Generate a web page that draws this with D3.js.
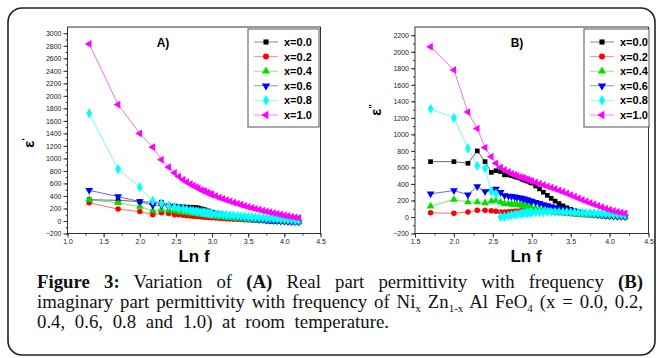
<!DOCTYPE html>
<html>
<head>
<meta charset="utf-8">
<script src="https://cdn.jsdelivr.net/npm/d3@7"></script>
<style>
  body { margin: 0; background: #fff; }
  svg { display: block; }
</style>
</head>
<body>
<svg id="fig" width="659" height="358"></svg>
<script>
// log10 of measuring frequency (axis "Ln f")
const lnF = [1.30, 1.70, 2.00, 2.18, 2.30, 2.40, 2.48, 2.54, 2.60, 2.65, 2.70, 2.74, 2.78, 2.81, 2.85,
  2.88, 2.90, 2.93, 2.95, 2.98, 3.00, 3.05, 3.10, 3.15, 3.20, 3.25, 3.30, 3.35, 3.40, 3.45, 3.50,
  3.55, 3.60, 3.65, 3.70, 3.75, 3.80, 3.85, 3.90, 3.95, 4.00, 4.05, 4.10, 4.15, 4.20];

const seriesNames = ['x=0.0', 'x=0.2', 'x=0.4', 'x=0.6', 'x=0.8', 'x=1.0'];

// A) real part  (one value per lnF entry)
const realX00 = [340, 330, 310, 300, 300, 250, 240, 230, 225, 222, 220, 218, 215, 208, 195, 185, 178, 165, 158, 145,
  138, 122, 108, 95, 83, 72, 62, 52, 44, 36, 29, 22, 16, 11, 6, 2, -2, -5, -8, -10, -12, -14, -16, -17, -18];
const realX02 = [290, 190, 150, 100, 130, 120, 100, 100, 90, 85, 80, 77, 74, 71, 67, 64, 62, 59, 57, 54,
  52, 48, 44, 40, 36, 33, 29, 26, 23, 20, 17, 14, 12, 9, 7, 5, 3, 1, 0, -2, -3, -5, -6, -8, -10];
const realX04 = [340, 290, 230, 165, 180, 170, 160, 150, 140, 134, 128, 122, 116, 112, 106, 102, 99, 94, 91, 86,
  83, 76, 69, 62, 56, 50, 44, 39, 34, 29, 25, 21, 17, 13, 10, 7, 4, 2, 0, -2, -3, -4, -5, -6, -7];
const realX06 = [490, 390, 310, 250, 250, 230, 220, 210, 200, 192, 185, 178, 172, 166, 160, 154, 150, 144, 140, 134,
  130, 120, 110, 100, 92, 84, 76, 68, 60, 53, 46, 40, 34, 28, 22, 17, 12, 7, 3, -1, -4, -8, -11, -14, -17];
const realX08 = [1720, 830, 540, 320, 280, 240, 220, 200, 190, 180, 170, 163, 156, 150, 143, 138, 134, 129, 125, 119,
  115, 110, 105, 100, 95, 90, 85, 80, 75, 70, 65, 61, 57, 53, 49, 45, 41, 37, 33, 29, 25, 20, 16, 11, 8];
const realX10 = [2830, 1860, 1400, 1180, 980, 860, 770, 710, 660, 620, 590, 565, 540, 520, 495, 480, 468, 452, 442, 428,
  420, 398, 375, 355, 335, 315, 295, 278, 260, 242, 225, 210, 195, 180, 165, 152, 140, 127, 115, 102, 90, 79, 68, 58, 50];

// B) imaginary part  (starts at the second lnF entry, 1.70)
const imagX00 = [670, 670, 650, 800, 670, 540, 560, 550, 510, 510, 500, 490, 480, 470, 458, 448, 440, 432, 420,
  410, 375, 340, 300, 262, 225, 192, 162, 135, 112, 92, 76, 62, 50, 40, 32, 26, 21, 17, 13, 10, 7, 5, 3, 1];
const imagX02 = [50, 45, 60, 80, 80, 75, 70, 60, 60, 62, 65, 68, 70, 72, 74, 75, 76, 76, 76,
  75, 73, 70, 67, 63, 59, 55, 50, 46, 42, 38, 34, 30, 27, 23, 20, 17, 14, 11, 9, 7, 5, 3, 2, 0];
const imagX04 = [130, 210, 180, 180, 170, 190, 200, 180, 160, 158, 155, 152, 150, 145, 140, 135, 128, 122, 116,
  110, 103, 96, 89, 82, 76, 70, 64, 58, 53, 48, 43, 38, 34, 30, 26, 22, 18, 15, 12, 9, 7, 5, 3, 1];
const imagX06 = [280, 320, 270, 370, 310, 310, 340, 300, 260, 255, 250, 245, 240, 232, 225, 220, 212, 206, 198,
  190, 178, 165, 152, 140, 128, 116, 105, 95, 85, 76, 68, 60, 53, 46, 40, 34, 28, 23, 18, 14, 10, 7, 4, 2];
const imagX08 = [1310, 1200, 830, 620, 590, 310, 280, 0, 5, 15, 22, 28, 33, 38, 42, 45, 48, 50, 52,
  54, 56, 58, 59, 60, 60, 60, 60, 59, 58, 56, 54, 52, 50, 48, 46, 44, 42, 40, 37, 34, 31, 28, 25, 22];
const imagX10 = [2060, 1780, 1270, 1070, 840, 730, 650, 600, 570, 545, 525, 510, 498, 485, 475, 468, 458, 450, 440,
  432, 418, 403, 388, 372, 356, 340, 322, 304, 285, 265, 245, 226, 207, 188, 170, 152, 135, 118, 102, 88, 75, 63, 53, 45];

const realTicksY = [-200, 0, 200, 400, 600, 800, 1000, 1200, 1400, 1600, 1800, 2000, 2200, 2400, 2600, 2800, 3000];
const imagTicksY = [-200, 0, 200, 400, 600, 800, 1000, 1200, 1400, 1600, 1800, 2000, 2200];
const realTicksX = [1.0, 1.5, 2.0, 2.5, 3.0, 3.5, 4.0, 4.5];
const imagTicksX = [1.5, 2.0, 2.5, 3.0, 3.5, 4.0, 4.5];

const colors = ['#000000', '#ff0000', '#00e000', '#0000ff', '#00ffff', '#ff00ff'];
const shapes = [
  { type: d3.symbolSquare, size: 22, rot: 0 },
  { type: d3.symbolCircle, size: 24, rot: 0 },
  { type: d3.symbolTriangle, size: 26, rot: 0 },
  { type: d3.symbolTriangle, size: 26, rot: 180 },
  { type: d3.symbolDiamond, size: 30, rot: 0 },
  { type: d3.symbolTriangle, size: 26, rot: -90 }
];

const svg = d3.select('#fig');
svg.append('rect').attr('width', 659).attr('height', 358).attr('fill', '#fff');
svg.append('rect')
  .attr('x', 8).attr('y', 8).attr('width', 647).attr('height', 347).attr('rx', 14)
  .attr('fill', 'none').attr('stroke', '#222').attr('stroke-width', 1.6);

function drawPanel(p) {
  const x = d3.scaleLinear().domain(p.xDomain).range([p.left, p.right]);
  const y = d3.scaleLinear().domain(p.yDomain).range([p.bottom, p.top]);
  const g = svg.append('g');

  const xMinor = d3.range(p.xDomain[0], p.xDomain[1] + 0.001, 0.25);
  const yMinor = d3.range(p.yTicks[0], p.yDomain[1], 100);

  const minorX = g.append('g').attr('transform', `translate(0,${p.bottom})`)
    .call(d3.axisBottom(x).tickValues(xMinor).tickSize(2).tickFormat(''));
  const minorY = g.append('g').attr('transform', `translate(${p.left},0)`)
    .call(d3.axisLeft(y).tickValues(yMinor).tickSize(2).tickFormat(''));
  const axX = g.append('g').attr('transform', `translate(0,${p.bottom})`)
    .call(d3.axisBottom(x).tickValues(p.xTicks).tickSize(4).tickPadding(2).tickFormat(d3.format('.1f')));
  const axY = g.append('g').attr('transform', `translate(${p.left},0)`)
    .call(d3.axisLeft(y).tickValues(p.yTicks).tickSize(4).tickPadding(2).tickFormat(d3.format('d')));
  [minorX, minorY, axX, axY].forEach(a => {
    a.select('.domain').remove();
    a.selectAll('line').attr('stroke', '#333');
    a.selectAll('text').attr('font-family', 'Liberation Sans, Arial, sans-serif')
      .attr('font-size', 7).attr('fill', '#222');
  });

  g.append('rect')
    .attr('x', p.left).attr('y', p.top)
    .attr('width', p.right - p.left).attr('height', p.bottom - p.top)
    .attr('fill', 'none').attr('stroke', '#333').attr('stroke-width', 1);

  const line = d3.line().x(d => x(d[0])).y(d => y(d[1]));
  p.series.forEach((vals, i) => {
    const xs = lnF.slice(lnF.length - vals.length);
    const pts = vals.map((v, j) => [xs[j], v]);
    g.append('path').datum(pts)
      .attr('fill', 'none').attr('stroke', colors[i]).attr('stroke-width', 0.8)
      .attr('stroke-opacity', 0.75).attr('d', line);
    const sym = d3.symbol().type(shapes[i].type).size(shapes[i].size);
    g.append('g').selectAll('path').data(pts).join('path')
      .attr('d', sym)
      .attr('transform', d => `translate(${x(d[0])},${y(d[1])}) rotate(${shapes[i].rot})`)
      .attr('fill', colors[i]);
  });

  // panel letter
  g.append('text').attr('x', p.tag[1]).attr('y', p.tag[2])
    .attr('text-anchor', 'middle').attr('font-family', 'Liberation Sans, Arial, sans-serif')
    .attr('font-weight', 'bold').attr('font-size', 12).text(p.tag[0]);

  // axis titles
  g.append('text').attr('x', p.xTitle[0]).attr('y', p.xTitle[1])
    .attr('text-anchor', 'middle').attr('font-family', 'Liberation Sans, Arial, sans-serif')
    .attr('font-weight', 'bold').attr('font-size', 17).text('Ln f');
  const yt = g.append('text')
    .attr('transform', `translate(${p.yTitle[0]},${p.yTitle[1]}) rotate(-90)`)
    .attr('text-anchor', 'middle').attr('font-family', 'Liberation Sans, Arial, sans-serif')
    .attr('font-weight', 'bold').attr('font-size', 15);
  yt.append('tspan').text('ε');
  yt.append('tspan').attr('dy', -6).attr('font-size', 9).text(p.yTitle[2]);

  // legend
  const lg = g.append('g').attr('transform', `translate(${p.legend[0]},${p.legend[1]})`);
  lg.append('rect').attr('width', p.legend[2]).attr('height', 98)
    .attr('fill', '#fff').attr('stroke', '#555').attr('stroke-width', 1);
  seriesNames.forEach((name, i) => {
    const cy = 13 + i * 14.6;
    lg.append('line').attr('x1', 6).attr('x2', 30).attr('y1', cy).attr('y2', cy)
      .attr('stroke', colors[i]).attr('stroke-width', 0.8).attr('stroke-opacity', 0.6);
    lg.append('path').attr('d', d3.symbol().type(shapes[i].type).size(shapes[i].size + 4))
      .attr('transform', `translate(18,${cy}) rotate(${shapes[i].rot})`)
      .attr('fill', colors[i]);
    lg.append('text').attr('x', 36).attr('y', cy + 4)
      .attr('font-family', 'Liberation Sans, Arial, sans-serif')
      .attr('font-weight', 'bold').attr('font-size', 11).text(name);
  });
}

drawPanel({
  left: 67.5, right: 320.5, top: 27, bottom: 233.5,
  xDomain: [1.0, 4.5], yDomain: [-200, 3100],
  xTicks: realTicksX, yTicks: realTicksY,
  series: [realX00, realX02, realX04, realX06, realX08, realX10],
  tag: ['A)', 163, 47], xTitle: [194, 262], yTitle: [34, 143, "'"],
  legend: [248, 29, 71]
});

drawPanel({
  left: 415, right: 648.5, top: 27, bottom: 233.5,
  xDomain: [1.5, 4.5], yDomain: [-200, 2300],
  xTicks: imagTicksX, yTicks: imagTicksY,
  series: [imagX00, imagX02, imagX04, imagX06, imagX08, imagX10],
  tag: ['B)', 517, 47], xTitle: [526, 262], yTitle: [381, 110, "''"],
  legend: [584, 29, 65]
});

// caption
const cap = svg.append('g')
  .attr('font-family', 'Liberation Serif, Times New Roman, serif')
  .attr('font-size', 18.8).attr('fill', '#111')
  .style('white-space', 'pre');

function captionLine(y, parts, target) {
  const t = cap.append('text').attr('x', 37).attr('y', y);
  parts.forEach(pt => {
    const s = t.append('tspan').text(pt.t);
    if (pt.b) s.attr('font-weight', 'bold');
    if (pt.sub) s.attr('font-size', 11).attr('dy', 4);
    if (pt.up) s.attr('dy', -4);
  });
  if (target) {
    const len = t.node().getComputedTextLength();
    const spaces = parts.map(p => p.t).join('').split(' ').length - 1;
    t.attr('word-spacing', (target - len) / spaces);
  }
}

captionLine(288, [
  { t: 'Figure 3:', b: true }, { t: ' Variation of ' }, { t: '(A)', b: true },
  { t: ' Real part permittivity with frequency ' }, { t: '(B)', b: true }
], 606);
captionLine(308, [
  { t: 'imaginary part permittivity with frequency of Ni' }, { t: 'x', sub: true },
  { t: ' Zn', up: true }, { t: '1-x', sub: true }, { t: ' Al FeO', up: true }, { t: '4', sub: true },
  { t: ' (x = 0.0, 0.2,', up: true }
], 606);
captionLine(328, [{ t: '0.4, 0.6, 0.8 and 1.0) at room temperature.' }], 352);
</script>
</body>
</html>
